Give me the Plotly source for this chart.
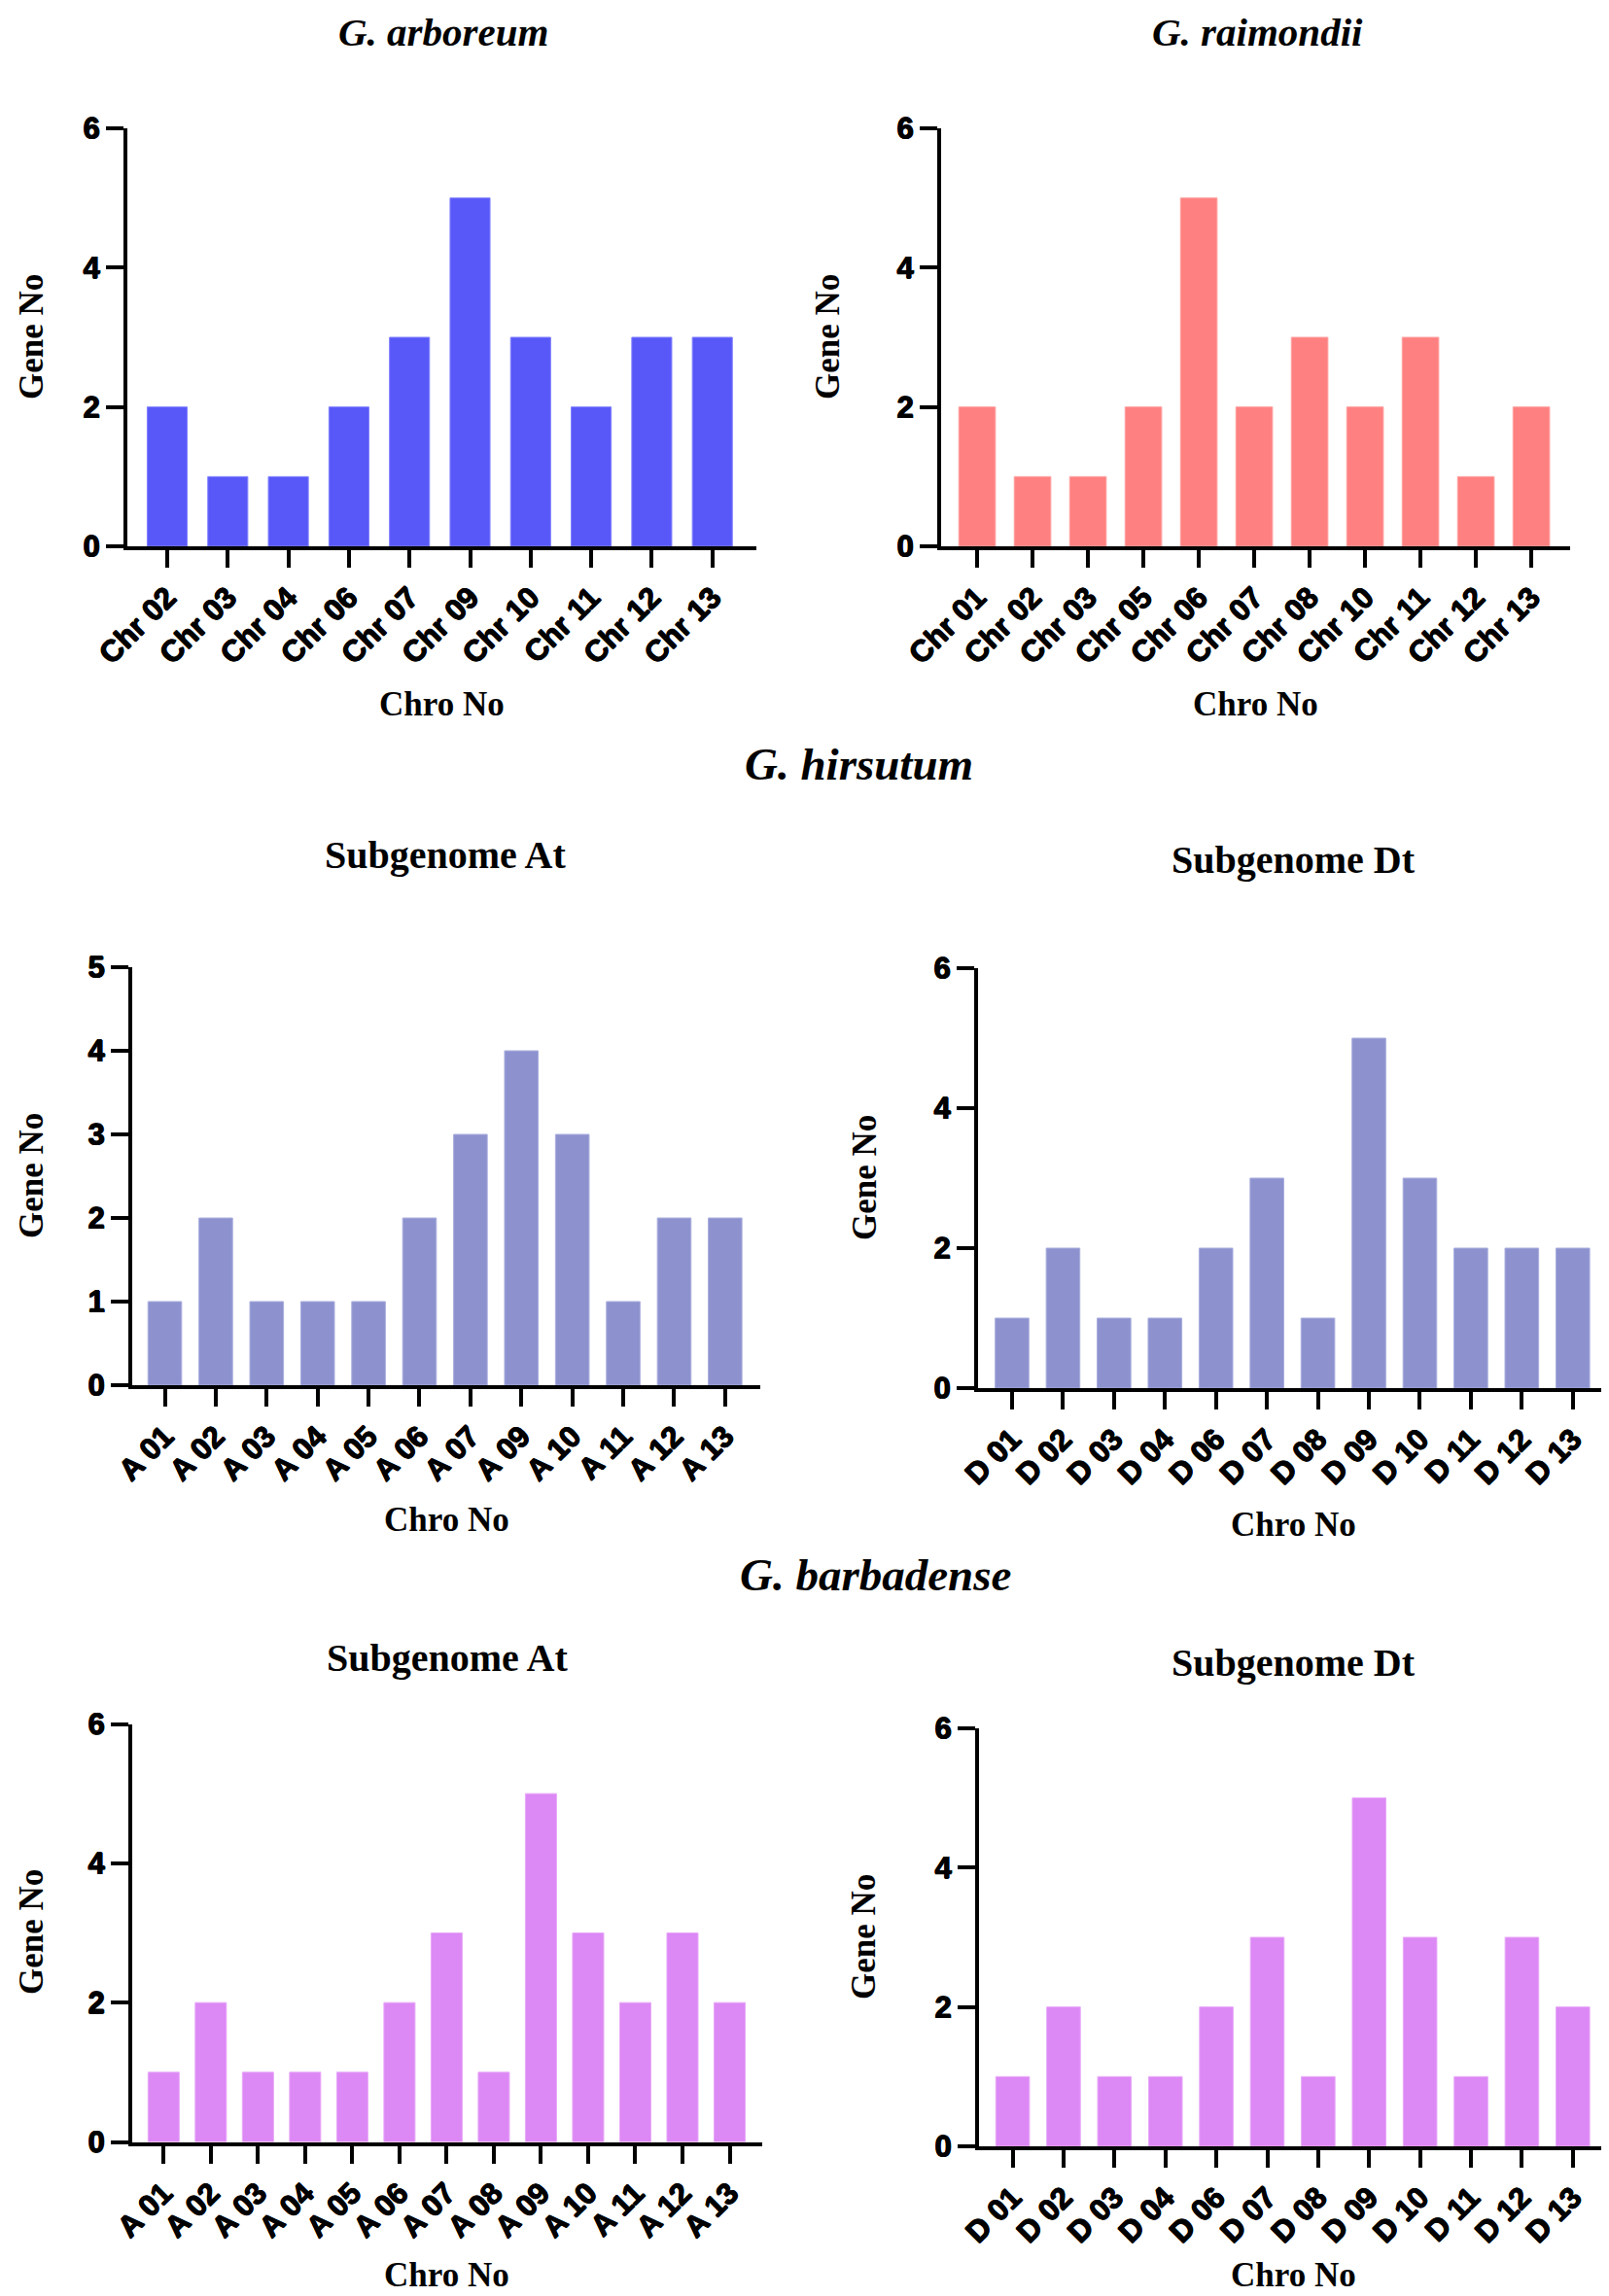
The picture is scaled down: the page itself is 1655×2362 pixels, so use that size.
import plotly.graph_objects as go

# The page body keeps an 8 px browser margin, so the figure is made 8 px
# smaller and every position below is given in reference-image pixels.
OFF = 8
W, H = 1655 - OFF, 2362 - OFF

# ---------------- data ----------------
arb_chr = ["Chr 02", "Chr 03", "Chr 04", "Chr 06", "Chr 07", "Chr 09", "Chr 10", "Chr 11", "Chr 12", "Chr 13"]
arb_val = [2, 1, 1, 2, 3, 5, 3, 2, 3, 3]

rai_chr = ["Chr 01", "Chr 02", "Chr 03", "Chr 05", "Chr 06", "Chr 07", "Chr 08", "Chr 10", "Chr 11", "Chr 12", "Chr 13"]
rai_val = [2, 1, 1, 2, 5, 2, 3, 2, 3, 1, 2]

hir_at_chr = ["A 01", "A 02", "A 03", "A 04", "A 05", "A 06", "A 07", "A 09", "A 10", "A 11", "A 12", "A 13"]
hir_at_val = [1, 2, 1, 1, 1, 2, 3, 4, 3, 1, 2, 2]

hir_dt_chr = ["D 01", "D 02", "D 03", "D 04", "D 06", "D 07", "D 08", "D 09", "D 10", "D 11", "D 12", "D 13"]
hir_dt_val = [1, 2, 1, 1, 2, 3, 1, 5, 3, 2, 2, 2]

bar_at_chr = ["A 01", "A 02", "A 03", "A 04", "A 05", "A 06", "A 07", "A 08", "A 09", "A 10", "A 11", "A 12", "A 13"]
bar_at_val = [1, 2, 1, 1, 1, 2, 3, 1, 5, 3, 2, 3, 2]

bar_dt_chr = ["D 01", "D 02", "D 03", "D 04", "D 06", "D 07", "D 08", "D 09", "D 10", "D 11", "D 12", "D 13"]
bar_dt_val = [1, 2, 1, 1, 2, 3, 1, 5, 3, 1, 3, 2]


def px(x):
    return (x - OFF) / W


def py(y):
    return 1 - (y - OFF) / H


# panel layout: (cats, vals, color, edge, x0, x1, ytop, yzero, ymax, dtick, xr0, xr1)
panels = [
    (arb_chr, arb_val, "#5858F8", "#8080FF", 131, 778, 132, 562, 6, 2, -0.658, 9.727),
    (rai_chr, rai_val, "#FF8080", "#FFA0A0", 968, 1615, 132, 562, 6, 2, -0.65, 10.70),
    (hir_at_chr, hir_at_val, "#8D92CF", "#A9ADDD", 136, 782, 995, 1425, 5, 1, -0.64, 11.69),
    (hir_dt_chr, hir_dt_val, "#8D92CF", "#A9ADDD", 1006, 1655, 996, 1428, 6, 2, -0.667, 11.71),
    (bar_at_chr, bar_at_val, "#DC88F5", "#E8A8F8", 136, 783.5, 1773.5, 2203.5, 6, 2, -0.666, 12.68),
    (bar_dt_chr, bar_dt_val, "#DC88F5", "#E8A8F8", 1007, 1655, 1778, 2208, 6, 2, -0.66, 11.71),
]

fig = go.Figure()
layout = {}
tickfont = dict(
    family="Liberation Sans, Arial, sans-serif", size=31, color="black",
    shadow="0.6px 0 0 #000, -0.6px 0 0 #000, 0 0.6px 0 #000, 0 -0.6px 0 #000",
)

for i, (cats, vals, col, edge, x0, x1, yt, yz, ymax, dt, r0, r1) in enumerate(panels, start=1):
    xa = "x" if i == 1 else f"x{i}"
    ya = "y" if i == 1 else f"y{i}"
    fig.add_trace(go.Bar(
        x=cats, y=vals, xaxis=xa, yaxis=ya,
        marker=dict(color=col, line=dict(color=edge, width=1)),
        width=0.66, showlegend=False, hoverinfo="x+y",
    ))
    yt_vals = list(range(0, ymax + 1, dt))
    layout["xaxis" if i == 1 else f"xaxis{i}"] = dict(
        domain=[max(px(x0), 0.0), min(px(x1), 1.0)], anchor=ya,
        type="category", range=[r0, r1], automargin=False,
        tickmode="array", tickvals=cats, ticktext=[f"<b>{c}</b>" for c in cats],
        showline=True, linewidth=4, linecolor="black",
        ticks="outside", ticklen=18, tickwidth=4, tickcolor="black",
        tickangle=-45, tickfont=tickfont, showgrid=False, zeroline=False,
        fixedrange=True,
    )
    layout["yaxis" if i == 1 else f"yaxis{i}"] = dict(
        domain=[py(yz), py(yt)], anchor=xa,
        range=[0, ymax], automargin=False,
        tickmode="array", tickvals=yt_vals, ticktext=[f"<b>{v}</b>" for v in yt_vals],
        showline=True, linewidth=4, linecolor="black",
        ticks="outside", ticklen=18, tickwidth=4, tickcolor="black",
        tickfont=tickfont, showgrid=False, zeroline=False,
        fixedrange=True,
    )

serif = "Liberation Serif, Times New Roman, serif"
ann = []


def add_text(text, x, y, size, angle=0):
    ann.append(dict(
        text=text, x=px(x), y=py(y), xref="paper", yref="paper",
        xanchor="center", yanchor="middle", showarrow=False, textangle=angle,
        font=dict(family=serif, size=size, color="black"),
    ))


# species titles
add_text("<b><i>G. arboreum</i></b>", 456, 33, 41)
add_text("<b><i>G. raimondii</i></b>", 1293, 33, 41)
add_text("<b><i>G. hirsutum</i></b>", 884, 786, 47)
add_text("<b><i>G. barbadense</i></b>", 900, 1620, 47)

# subgenome titles
add_text("<b>Subgenome At</b>", 458, 879, 40)
add_text("<b>Subgenome Dt</b>", 1330, 884, 40)
add_text("<b>Subgenome At</b>", 459.5, 1705, 40)
add_text("<b>Subgenome Dt</b>", 1330, 1710, 40)

# y axis titles
for (gx, gy) in [(32, 347), (851, 347), (32, 1210), (889, 1212), (32, 1988), (889, 1993)]:
    add_text("<b>Gene No</b>", gx, gy, 35, angle=-90)

# x axis titles
for (cx, cy) in [(454, 724), (1291, 724), (459, 1563), (1330, 1568), (459.5, 2340), (1330, 2340)]:
    add_text("<b>Chro No</b>", cx, cy, 35)

fig.update_layout(
    template="none",
    width=W, height=H, autosize=False,
    margin=dict(l=0, r=0, t=0, b=0, pad=0),
    paper_bgcolor="white", plot_bgcolor="white",
    annotations=ann,
    bargap=0.34,
    **layout,
)

fig.write_html("out.html", config={"displayModeBar": False, "responsive": False})
